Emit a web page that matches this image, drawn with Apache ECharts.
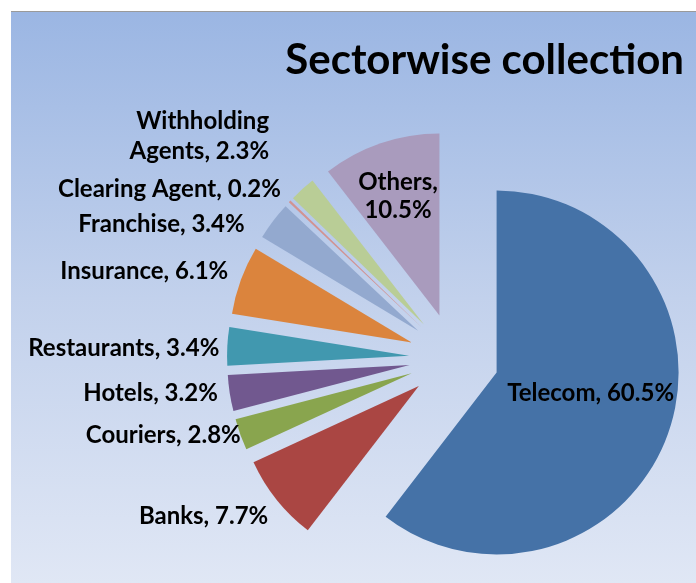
<!DOCTYPE html>
<html>
<head>
<meta charset="utf-8">
<script src="https://cdn.jsdelivr.net/npm/echarts@6/dist/echarts.min.js"></script>
<style>
  html, body { margin: 0; padding: 0; background: #fff; }
  #main {
    position: absolute; left: 11px; top: 11px; width: 685px; height: 572px;
    border-top: 1px solid #9a9a9a;
    background: linear-gradient(to bottom, #9bb6e3 0%, #c2d1ec 50%, #e0e7f5 100%);
  }
</style>
</head>
<body>
<div id="main"></div>
<script>
// sector shares in percent, clockwise from 12 o'clock
var sectors = ['Telecom', 'Banks', 'Couriers', 'Hotels', 'Restaurants', 'Insurance',
               'Franchise', 'Clearing Agent', 'Withholding Agents', 'Others'];
var shares = [60.5, 7.7, 2.8, 3.2, 3.4, 6.1, 3.4, 0.2, 2.3, 10.5];
var colors = ['#4572a7', '#aa4643', '#89a54e', '#71588f', '#4198af', '#db843d',
              '#93a9cf', '#d19392', '#b9cd96', '#a99bbd'];

// small nudges so the labels sit where the original placed them
var labelNudge = {
    'Telecom': [5, -10],
    'Others': [-11, -30],
    'Withholding Agents': [-23, -47],
    'Clearing Agent': [2, -7],
    'Franchise': [-17, 8],
    'Insurance': [0, -6],
    'Restaurants': [5, 2],
    'Hotels': [1, -1],
    'Couriers': [13, -2],
    'Banks': [3, 12]
};

var myChart = echarts.init(document.getElementById('main'));

var data = sectors.map(function (name, i) {
    var item = {
        name: name, value: shares[i], selected: true,
        itemStyle: { color: colors[i] }
    };
    if (name === 'Telecom') item.label = { position: 'inside' };
    if (name === 'Others') item.label = { position: 'inside', lineHeight: 28 };
    return item;
});

var option = {
    title: {
        text: 'Sectorwise collection',
        right: 7,
        top: 22,
        textStyle: { fontFamily: 'Lato', fontWeight: 'bold', fontSize: 42, color: '#000' }
    },
    series: [{
        type: 'pie',
        center: [443, 346],
        radius: 182,
        startAngle: 90,
        clockwise: true,
        selectedMode: 'multiple',
        selectedOffset: 45,
        animation: false,
        avoidLabelOverlap: false,
        select: { itemStyle: { borderWidth: 0 } },
        emphasis: { disabled: true },
        label: {
            show: true,
            position: 'outside',
            fontFamily: 'Lato',
            fontWeight: 'bold',
            fontSize: 24,
            lineHeight: 30,
            color: '#000',
            formatter: function (p) {
                var n = p.name;
                if (n === 'Withholding Agents') n = 'Withholding\nAgents';
                if (n === 'Others') return 'Others,\n' + p.value + '%';
                return n + ', ' + p.value + '%';
            }
        },
        labelLine: { show: false, length: 8, length2: 0 },
        labelLayout: function (p) {
            var n = labelNudge[sectors[p.dataIndex]];
            return { dx: n[0], dy: n[1] };
        },
        data: data
    }]
};

myChart.setOption(option, true);
</script>
</body>
</html>
